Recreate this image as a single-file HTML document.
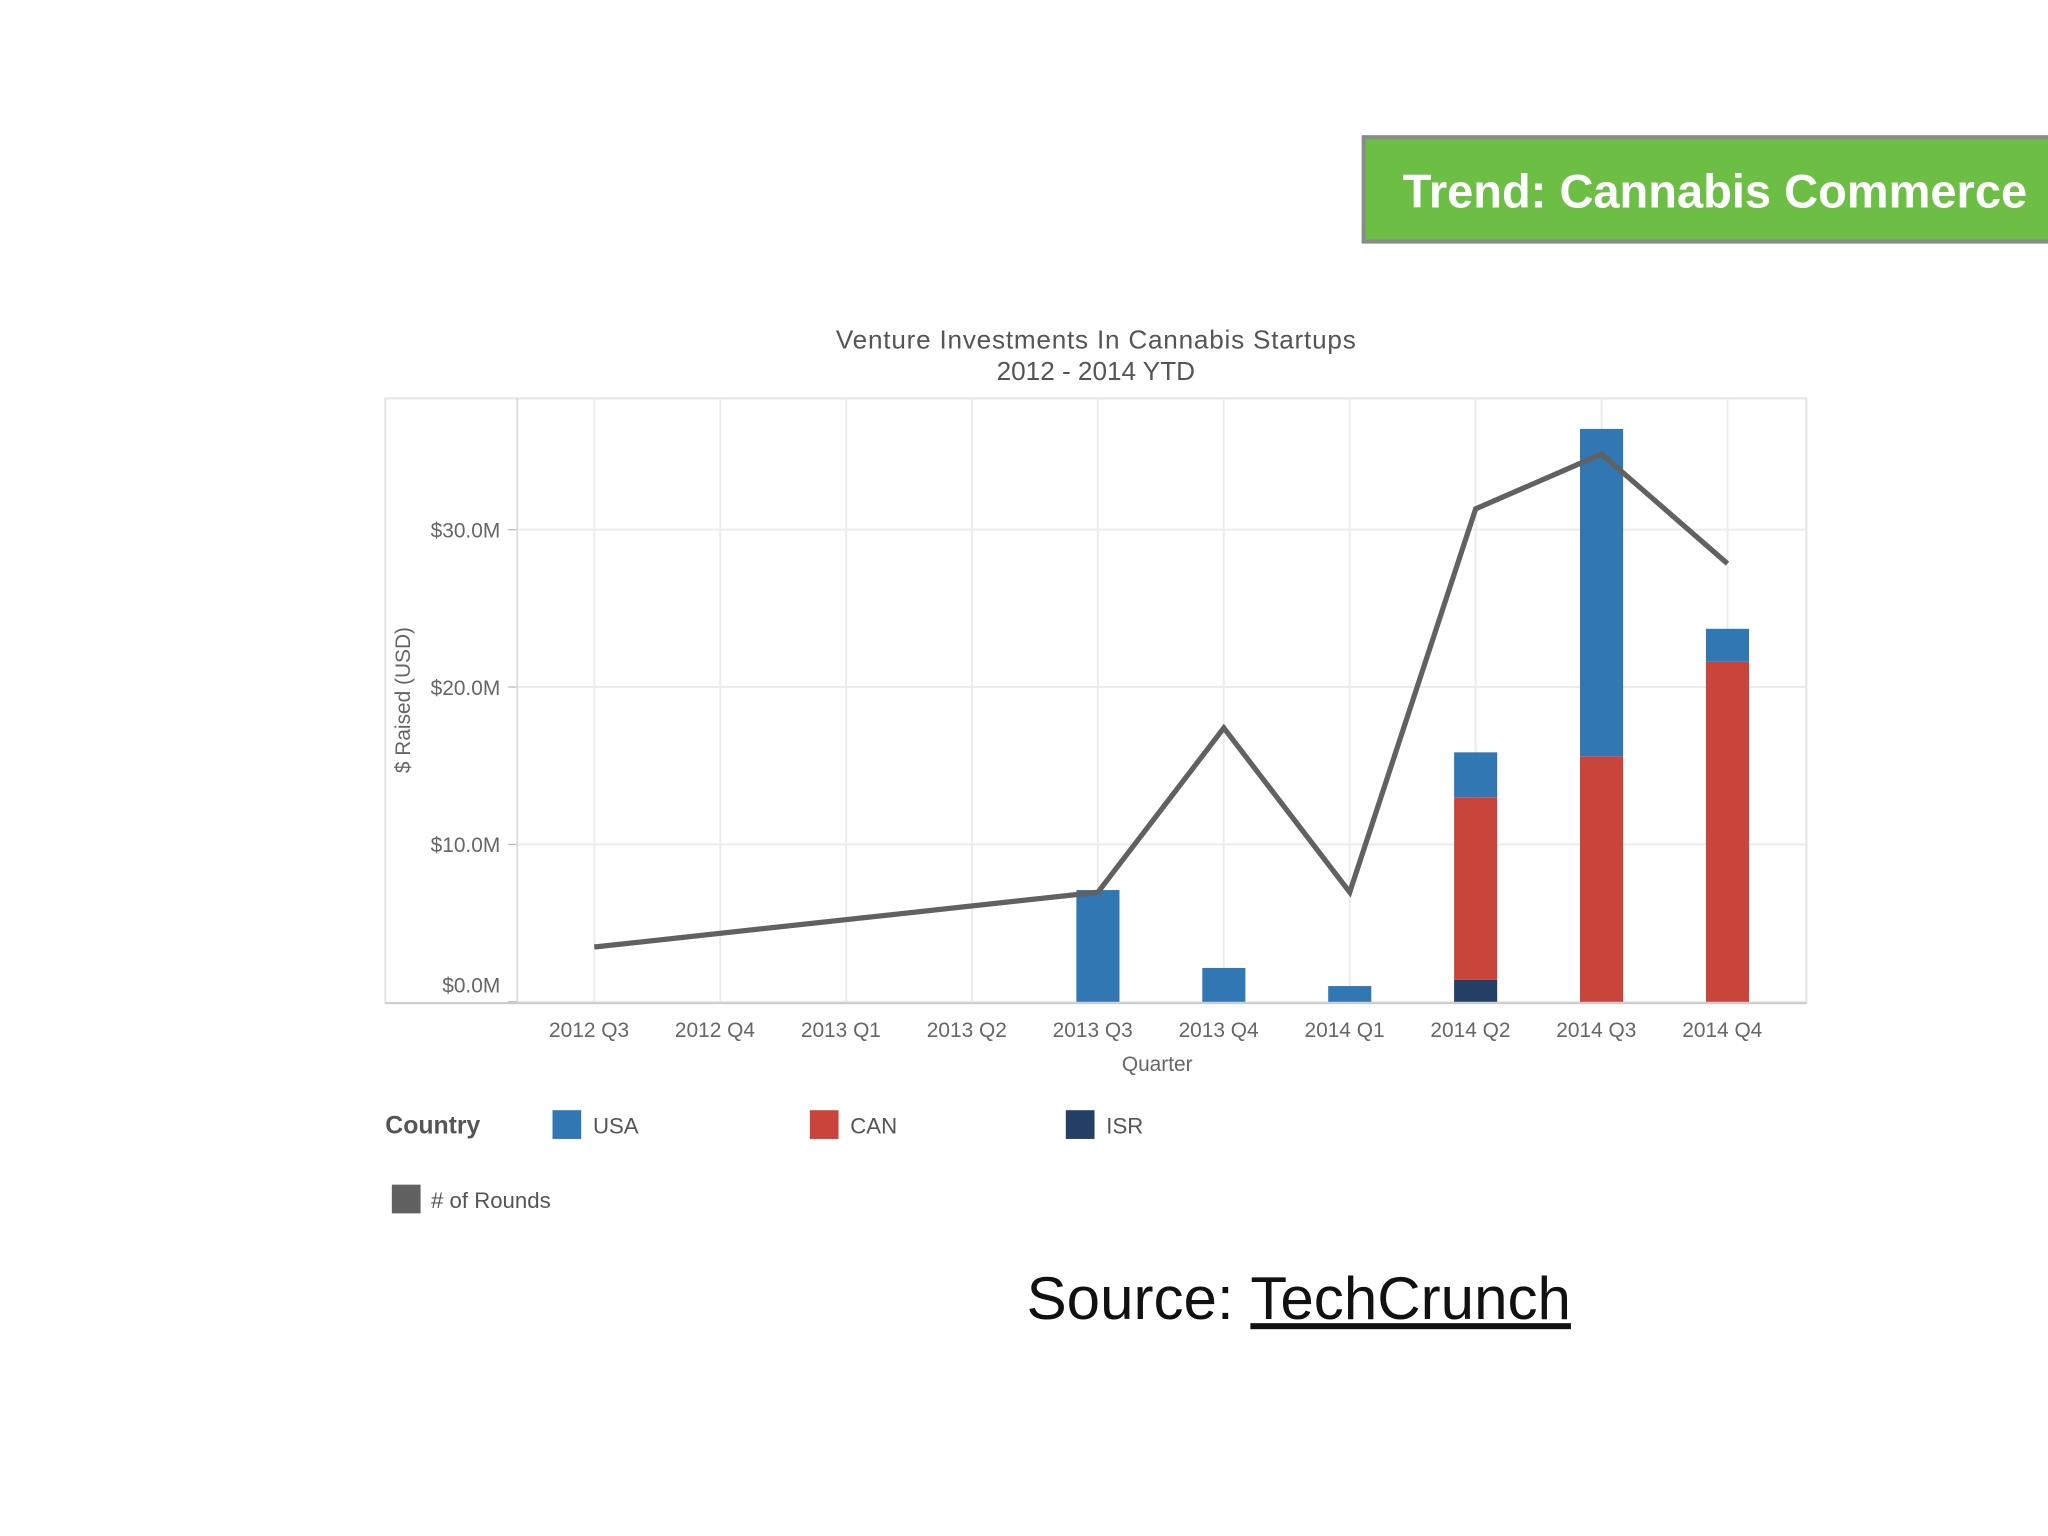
<!DOCTYPE html>
<html><head><meta charset="utf-8"><style>html,body{margin:0;padding:0;background:#fff}svg{display:block}</style></head>
<body>
<svg id="chart" width="2048" height="1536" viewBox="0 0 1568 1176" xmlns="http://www.w3.org/2000/svg" font-family="Liberation Sans, sans-serif">
<rect x="0" y="0" width="1568" height="1176" fill="#fff"/>
<g>
<rect x="1044" y="105" width="530" height="80" fill="#6dbe45" stroke="#8a8a8a" stroke-width="3"/>
<text x="1313" y="159" text-anchor="middle" fill="#fff" font-size="36" font-weight="bold">Trend: Cannabis Commerce</text>
</g>
<text x="839" y="267" text-anchor="middle" fill="#555" font-size="20" textLength="398">Venture Investments In Cannabis Startups</text>
<text x="839" y="291" text-anchor="middle" fill="#555" font-size="20">2012 - 2014 YTD</text>
<rect x="295" y="305" width="1088" height="463" fill="none" stroke="#e4e4e4" stroke-width="1.5"/>
<g id="grid"></g>
<g id="bars"></g>
<g id="line"></g>
<g id="axes"></g>
<text x="886" y="820" text-anchor="middle" fill="#666" font-size="16">Quarter</text>
<text transform="translate(314,536) rotate(-90)" text-anchor="middle" fill="#666" font-size="16">$ Raised (USD)</text>
<g>
<text x="295" y="868" fill="#555" font-size="19" font-weight="bold">Country</text>
<rect x="423" y="850" width="22" height="22" fill="#3177b4"/>
<text x="454" y="868" fill="#555" font-size="17">USA</text>
<rect x="620" y="850" width="22" height="22" fill="#c9443a"/>
<text x="651" y="868" fill="#555" font-size="17">CAN</text>
<rect x="816" y="850" width="22" height="22" fill="#243f66"/>
<text x="847" y="868" fill="#555" font-size="17">ISR</text>
<rect x="300" y="907" width="22" height="22" fill="#616161"/>
<text x="330" y="925" fill="#555" font-size="17"># of Rounds</text>
</g>
<text x="786" y="1010" fill="#111" font-size="46">Source: <tspan text-decoration="underline">TechCrunch</tspan></text>
</svg>
<script>
const categories=["2012 Q3","2012 Q4","2013 Q1","2013 Q2","2013 Q3","2013 Q4","2014 Q1","2014 Q2","2014 Q3","2014 Q4"];
const usa=[0,0,0,0,7.1,2.15,1.0,2.85,20.8,2.1];
const can=[0,0,0,0,0,0,0,11.6,15.6,21.6];
const isr=[0,0,0,0,0,0,0,1.4,0,0];
const rounds=[1,null,null,null,2,5,2,9,10,8];
const yTicks=[0,10,20,30];
const yTickLabels=["$0.0M","$10.0M","$20.0M","$30.0M"];
const roundScale=3.48;
const NS="http://www.w3.org/2000/svg";
function x(i){return 455+i*96.4;}
function y(v){return 767-v*12.05;}
function mk(tag,attrs,parent){const e=document.createElementNS(NS,tag);for(const k in attrs)e.setAttribute(k,attrs[k]);document.getElementById(parent).appendChild(e);return e;}
yTicks.forEach((t,i)=>{
 const g=mk('line',{x1:396,x2:1383,y1:y(t),y2:y(t),stroke:'#ececec','stroke-width':1.5},'grid');
 
 
 const tk=mk('line',{x1:389,x2:396,y1:y(t),y2:y(t),stroke:'#bbb'},'axes');
 
 
 const tx=mk('text',{x:383,y:y(t)+(t===0?-7:6),'text-anchor':'end',fill:'#666','font-size':16},'axes');
 tx.textContent=yTickLabels[i];
 
 
});
categories.forEach((c,i)=>{
 const g=mk('line',{x1:x(i),x2:x(i),y1:305,y2:768,stroke:'#ececec','stroke-width':1.5},'grid');
 
 
 const tx=mk('text',{x:x(i)-4,y:794,'text-anchor':'middle',fill:'#666','font-size':16},'axes');
 tx.textContent=c;
 
 
 let base=0;
 [[isr,'#243f66','isr'],[can,'#c9443a','can'],[usa,'#3177b4','usa']].forEach(([arr,col,nm])=>{
  const v=arr[i]; if(!v)return;
  const r=mk('rect',{x:x(i)-16.5,width:33,y:y(base+v),height:y(base)-y(base+v),fill:col},'bars');
  
  
  base+=v;
 });
});
const ax=mk('line',{x1:396,x2:396,y1:305,y2:768,stroke:'#ddd','stroke-width':1.5},'axes');


const bx=mk('line',{x1:295,x2:1383,y1:768,y2:768,stroke:'#ccc','stroke-width':1.5},'axes');


const pts=[];rounds.forEach((r,i)=>{if(r!==null)pts.push(x(i)+','+y(r*roundScale));});
const pl=mk('polyline',{points:pts.join(' '),fill:'none',stroke:'#616161','stroke-width':4,'stroke-linejoin':'miter'},'line');


</script>
</body></html>
